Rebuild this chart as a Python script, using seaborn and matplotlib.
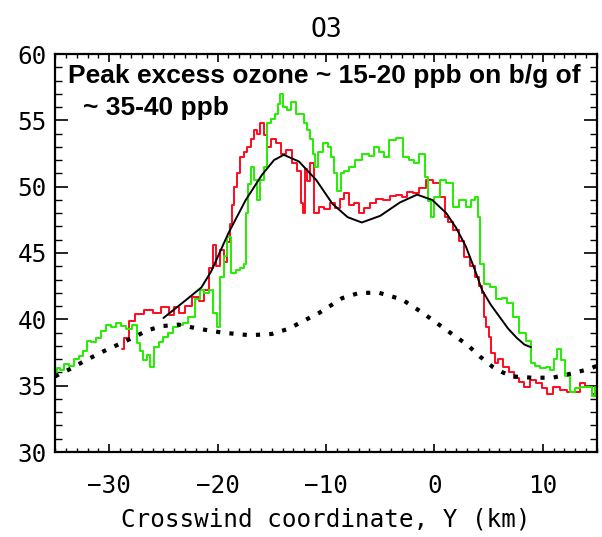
import matplotlib
matplotlib.use("Agg")
import matplotlib.pyplot as plt
from matplotlib.ticker import MultipleLocator
import numpy as np
import pandas as pd
import seaborn as sns

# Crosswind ozone profile (ppb) across the plume
red_y = [-28.8, -28.4, -28.0, -27.2, -26.4, -25.6, -24.8, -24.2, -23.8, -23.3, -22.8,
         -22.0, -21.5, -21.0, -20.6, -20.3, -20.0, -19.6, -19.3, -19.0, -18.8, -18.5,
         -18.4, -18.1, -17.8, -17.4, -17.1, -16.8, -16.5, -16.2, -15.9, -15.6, -15.3,
         -14.9, -14.4, -13.9, -13.4, -12.8, -12.5, -12.2, -12.0, -11.9, -11.6, -11.3,
         -10.9, -10.4, -9.9, -9.4, -8.9, -8.5, -8.1, -7.6, -7.2, -6.7, -6.2, -5.7,
         -5.0, -4.4, -3.8, -3.2, -2.7, -2.3, -1.7, -1.1, -0.5, 0.2, 0.8, 1.1, 1.5,
         2.0, 2.5, 3.0, 3.5, 3.9, 4.3, 4.5, 4.6, 4.9, 5.1, 5.4, 5.7, 6.1, 6.6, 7.1,
         7.6, 8.0, 8.5, 9.1, 9.7, 10.1, 10.6, 11.2, 11.9, 12.5, 13.1, 13.7, 14.0,
         14.4, 14.7, 15.0]
red_o3 = [37.8, 38.6, 39.9, 40.4, 40.7, 40.5, 40.9, 40.3, 40.9, 40.5, 41.0,
          41.7, 41.4, 42.2, 43.9, 45.6, 44.0, 45.2, 44.3, 45.8, 47.2, 48.6,
          50.0, 51.0, 52.2, 52.6, 53.0, 53.6, 54.3, 54.0, 54.8, 53.9, 53.0,
          53.6, 53.3, 52.5, 52.8, 51.8, 51.2, 48.8, 48.0, 51.3, 50.4, 51.8,
          48.0, 48.5, 48.3, 48.8, 48.4, 49.1, 49.5, 48.6, 48.8, 48.0, 48.4, 48.8,
          49.1, 49.0, 49.3, 49.4, 49.2, 49.6, 49.5, 49.9, 50.5, 50.3, 49.2, 47.7, 47.3,
          46.7, 45.9, 44.7, 44.0, 43.2, 42.5, 42.0, 40.2, 39.4, 38.7, 37.5, 36.7, 37.0, 36.4, 36.0,
          35.6, 35.3, 34.9, 35.4, 35.2, 34.8, 34.4, 34.9, 34.7, 34.5, 34.5, 35.2, 35.0,
          34.9, 34.4, 34.2]

green_y = [-35.0, -34.7, -34.4, -34.0, -33.5, -33.0, -32.6, -32.2, -31.9, -31.4, -31.0,
           -30.5, -30.1, -29.6, -29.2, -28.7, -28.2, -27.6, -27.3, -27.0, -26.7, -26.4,
           -26.1, -25.7, -25.2, -24.8, -24.3, -23.9, -23.4, -23.0, -22.4, -21.8, -21.5,
           -21.0, -20.6, -20.2, -19.9, -19.6, -19.3, -19.0, -18.5, -18.1, -17.7, -17.4,
           -17.3, -17.0, -16.8, -16.5, -16.2, -15.9, -15.6, -15.3, -14.9, -14.6, -14.3,
           -14.1, -13.8, -13.4, -13.0, -12.6, -12.2, -11.9, -11.6, -11.3, -11.1, -10.9,
           -10.5, -10.0, -9.7, -9.4, -9.1, -8.8, -8.5, -8.1, -7.6, -7.0, -6.3, -5.8,
           -5.4, -4.9, -4.4, -3.9, -3.2, -2.6, -2.1, -1.7, -1.1, -0.7, -0.4, -0.2, 0.2,
           0.8, 1.4, 2.0, 2.6, 3.2, 3.6, 3.9, 4.2, 4.3, 4.8, 5.4, 6.0, 6.5, 6.9, 7.6,
           8.1, 8.8, 9.1, 9.5, 10.0, 10.5, 10.9, 11.2, 11.4, 11.9, 12.2, 12.8, 13.2,
           13.7, 14.4, 14.7, 15.0]
green_o3 = [35.7, 36.3, 36.2, 36.6, 36.5, 37.0, 37.2, 37.6, 38.4, 38.3, 38.6,
            39.1, 39.6, 39.4, 39.7, 39.5, 39.3, 39.6, 38.2, 37.6, 36.9, 37.3,
            36.4, 37.9, 38.3, 38.7, 39.0, 39.4, 39.6, 39.7, 40.2, 41.5, 42.2,
            42.0, 42.2, 40.5, 39.4, 43.2, 44.8, 46.2, 43.5, 43.7, 43.9, 44.2,
            48.0, 50.2, 51.5, 50.5, 49.0, 50.5, 51.5, 54.8, 55.1, 55.5, 56.2,
            57.0, 56.0, 55.8, 56.4, 55.5, 55.5, 54.8, 54.3, 53.6, 52.5, 51.5,
            52.6, 53.3, 53.0, 52.2, 51.0, 49.7, 51.0, 51.2, 51.5, 52.0, 52.5, 52.3,
            53.0, 52.6, 52.2, 53.5, 53.7, 52.2, 52.0, 51.8, 52.5, 50.7, 48.9, 47.7, 49.2,
            50.5, 50.3, 48.5, 49.0, 48.5, 49.0, 49.2, 47.7, 44.2, 42.7, 42.4, 41.5, 41.6, 41.2, 40.2,
            39.0, 38.4, 36.7, 36.5, 36.3, 36.4, 36.2, 37.0, 37.8, 36.9, 35.7, 34.5, 34.8,
            34.9, 34.9, 34.2, 34.9]

# Smooth fit through the plume
fit_y = [-25.0, -23.0, -21.5, -20.6, -19.0, -17.4, -15.9, -14.8, -13.9, -12.5, -10.9,
         -9.4, -8.0, -6.7, -5.0, -3.2, -1.6, -0.2, 1.1, 2.0, 2.9, 3.7, 4.4, 5.2, 6.0,
         6.8, 7.6, 8.3, 8.9]
fit_o3 = [40.1, 41.4, 42.4, 43.6, 46.5, 49.0, 50.9, 52.0, 52.4, 51.9, 50.5,
          48.7, 47.7, 47.3, 47.8, 48.8, 49.4, 49.0, 48.0, 46.9, 45.5, 43.8, 42.2, 41.1, 40.2,
          39.3, 38.6, 38.1, 37.9]

# Background ozone
bg_y = [-35.0, -33.5, -32.2, -30.5, -28.9, -27.6, -26.4, -25.0, -23.6, -21.8, -19.6,
        -17.0, -15.0, -13.4, -12.5, -10.6, -8.5, -6.9, -5.1, -3.0, -1.1, 1.1, 3.0,
        4.2, 5.4, 6.3, 7.2, 9.0, 10.9, 12.0, 13.1, 14.4, 15.0]
bg_o3 = [35.7, 36.3, 36.9, 37.6, 38.2, 38.7, 39.2, 39.5, 39.6, 39.3, 39.0,
         38.8, 38.9, 39.3, 39.7, 40.5, 41.6, 42.0, 42.0, 41.5, 40.5, 39.2, 38.1,
         37.2, 36.4, 36.0, 35.7, 35.6, 35.6, 35.8, 36.0, 36.3, 36.5]

x_ticks = [-30, -20, -10, 0, 10]
x_tick_labels = ["\u221230", "\u221220", "\u221210", "0", "10"]
y_ticks = [30, 35, 40, 45, 50, 55, 60]

sns.set_style("white")
plt.rcParams["font.family"] = ["DejaVu Sans Mono", "DejaVu Sans"]
plt.rcParams["text.color"] = "black"
plt.rcParams["xtick.color"] = "black"
plt.rcParams["ytick.color"] = "black"
plt.rcParams["axes.labelcolor"] = "black"

fig = plt.figure(figsize=(6.02, 5.37), dpi=100)
ax = fig.add_axes([55 / 602, 1 - 452 / 537, 542 / 602, 398 / 537])

sns.lineplot(x=red_y, y=red_o3, ax=ax, sort=False, estimator=None,
             color="#ff0a1e", lw=1.4, drawstyle="steps-mid")
sns.lineplot(x=green_y, y=green_o3, ax=ax, sort=False, estimator=None,
             color="#22ee00", lw=1.4, drawstyle="steps-mid")
sns.lineplot(x=fit_y, y=fit_o3, ax=ax, sort=False, estimator=None,
             color="black", lw=1.4)
sns.lineplot(x=bg_y, y=bg_o3, ax=ax, sort=False, estimator=None,
             color="black", lw=3.0, linestyle=(0, (1, 2.2)))

ax.set_xlim(-35, 15)
ax.set_ylim(30, 60)
ax.set_xticks(x_ticks)
ax.set_yticks(y_ticks)
ax.set_xticklabels(x_tick_labels)
ax.xaxis.set_minor_locator(MultipleLocator(1))
ax.yaxis.set_minor_locator(MultipleLocator(1))

for s in ax.spines.values():
    s.set_visible(True)
    s.set_linewidth(1.6)
    s.set_color("black")

ax.tick_params(axis="x", which="major", direction="in", length=6, width=1.2,
               top=True, bottom=True, pad=16, labelsize=17.5)
ax.tick_params(axis="x", which="minor", direction="in", length=3, width=1.0,
               top=True, bottom=True)
ax.tick_params(axis="y", which="major", direction="in", length=9.5, width=1.2,
               left=True, right=True, pad=6, labelsize=17.5)
ax.tick_params(axis="y", which="minor", direction="in", length=5, width=1.0,
               left=True, right=True)

ax.set_xlabel("Crosswind coordinate, Y (km)", fontsize=17.5, labelpad=7)
ax.set_ylabel("")
fig.text(326 / 602, 1 - 30 / 537, "O3", fontsize=19, ha="center", va="center")

ax.text(0.024, 0.927, "Peak excess ozone ~ 15-20 ppb on b/g of",
        transform=ax.transAxes, fontsize=19, fontweight="bold", color="black",
        family="Liberation Sans", va="baseline", ha="left")
ax.text(0.0517, 0.847, "~ 35-40 ppb",
        transform=ax.transAxes, fontsize=19, fontweight="bold", color="black",
        family="Liberation Sans", va="baseline", ha="left")

fig.savefig("out.png", dpi=100, facecolor="white")
